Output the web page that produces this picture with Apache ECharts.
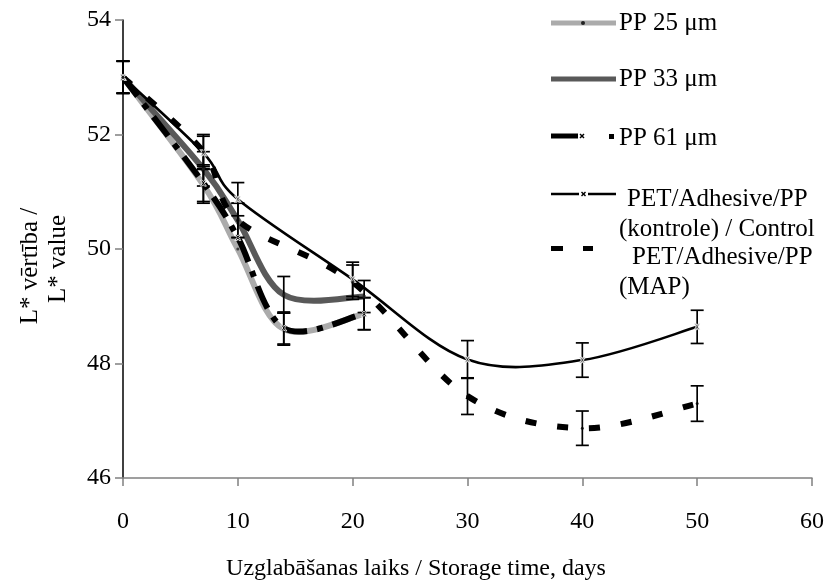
<!DOCTYPE html>
<html>
<head>
<meta charset="utf-8">
<script src="https://cdn.jsdelivr.net/npm/echarts@6/dist/echarts.min.js"></script>
<style>
html,body{margin:0;padding:0;background:#fff;}
#chart{width:828px;height:587px;}
</style>
</head>
<body>
<div id="chart"></div>
<script>
// ---- data ----
const xTicks = [0, 10, 20, 30, 40, 50, 60];
const yTicks = [46, 48, 50, 52, 54];
const ppDays = [0, 7, 10, 14, 21];
const pp25 = [53.0, 51.12, 50.0, 48.6, 48.87];
const pp33 = [53.0, 51.4, 50.5, 49.2, 49.17];
const pp61 = [53.0, 51.15, 50.2, 48.62, 48.87];
const petDays = [0, 7, 10, 20, 30, 40, 50];
const control = [53.0, 51.68, 50.87, 49.47, 48.07, 48.06, 48.64];
const mapPack = [53.0, 51.7, 50.5, 49.42, 47.43, 46.87, 47.3];
// error bars (0 = no bar drawn in the original)
const errPP25 = [0.28, 0.32, 0, 0.28, 0.28];
const errPP33 = [0.28, 0.3, 0.3, 0.32, 0.28];
const errPP61 = [0.28, 0.32, 0, 0.28, 0.28];
const errControl = [0.28, 0.29, 0.29, 0.3, 0.33, 0.3, 0.29];
const errMap = [0.28, 0.3, 0.3, 0.3, 0.32, 0.3, 0.31];
const names = ['PP 25 μm', 'PP 33 μm', 'PP 61 μm', 'PET/Adhesive/PP (kontrole) / Control', 'PET/Adhesive/PP (MAP)'];

const FONT = '"Liberation Serif", "Times New Roman", serif';
const pairs = (xs, ys) => xs.map((x, i) => [x, ys[i]]);
const errPairs = (xs, ys, es) => xs.map((x, i) => [x, ys[i], es[i]]);
const xSym = 'path://M0 0 L3 0 L5 2.5 L7 0 L10 0 L6.5 5 L10 10 L7 10 L5 7.5 L3 10 L0 10 L3.5 5 Z';

// smoothed curve (Excel-like Catmull-Rom, tension 1/6) through the data, via the axis scales
function curveRender(style) {
  return function (params, api) {
    if (params.dataIndexInside !== 0) return null;
    const n = params.dataInsideLength;
    const pts = [];
    for (let i = 0; i < n; i++) pts.push(api.coord([api.value(0, i), api.value(1, i)]));
    let d = 'M' + pts[0][0] + ' ' + pts[0][1];
    for (let i = 0; i < n - 1; i++) {
      const p0 = pts[i - 1] || pts[i], p1 = pts[i], p2 = pts[i + 1], p3 = pts[i + 2] || pts[i + 1];
      const c1x = p1[0] + (p2[0] - p0[0]) / 6, c1y = p1[1] + (p2[1] - p0[1]) / 6;
      const c2x = p2[0] - (p3[0] - p1[0]) / 6, c2y = p2[1] - (p3[1] - p1[1]) / 6;
      d += ' C' + c1x + ' ' + c1y + ' ' + c2x + ' ' + c2y + ' ' + p2[0] + ' ' + p2[1];
    }
    return {type: 'path', shape: {pathData: d}, style: Object.assign({fill: null}, style)};
  };
}
function curveSeries(name, xs, ys, style, z) {
  return {name: name, type: 'custom', renderItem: curveRender(style), data: pairs(xs, ys),
          encode: {x: 0, y: 1}, z: z, silent: true, clip: false};
}
function markSeries(name, xs, ys, symbol, size, itemStyle) {
  return {name: name, type: 'scatter', data: pairs(xs, ys), symbol: symbol, symbolSize: size,
          itemStyle: itemStyle, z: 6, silent: true};
}

function errRender(params, api) {
  const x = api.value(0), y = api.value(1), e = api.value(2);
  if (!e) return null;
  const top = api.coord([x, y + e]);
  const bot = api.coord([x, y - e]);
  const hw = 6.5;
  const st = {stroke: '#000', lineWidth: 1.7};
  return {
    type: 'group',
    children: [
      {type: 'line', shape: {x1: top[0], y1: top[1], x2: bot[0], y2: bot[1]}, style: st},
      {type: 'line', shape: {x1: top[0] - hw, y1: top[1], x2: top[0] + hw, y2: top[1]}, style: st},
      {type: 'line', shape: {x1: bot[0] - hw, y1: bot[1], x2: bot[0] + hw, y2: bot[1]}, style: st}
    ]
  };
}
function errSeries(data) {
  return {type: 'custom', renderItem: errRender, data: data, z: 5, silent: true,
          encode: {x: 0, y: 1}};
}
function xMark(cx, cy, r) {
  return [
    {type: 'line', shape: {x1: cx - r, y1: cy - r, x2: cx + r, y2: cy + r}, style: {stroke: '#000', lineWidth: 1.5}},
    {type: 'line', shape: {x1: cx - r, y1: cy + r, x2: cx + r, y2: cy - r}, style: {stroke: '#000', lineWidth: 1.5}}
  ];
}

const C25 = '#ababab', C33 = '#595959';
const chart = echarts.init(document.getElementById('chart'), null, {renderer: 'canvas'});
const option = {
  animation: false,
  backgroundColor: '#fff',
  grid: {left: 123, right: 16, top: 20, bottom: 109},
  xAxis: {
    type: 'value', min: 0, max: 60, interval: 10,
    axisLine: {show: true, lineStyle: {color: '#808080', width: 1.5}},
    axisTick: {show: true, inside: false, length: 8, lineStyle: {color: '#808080', width: 1.5}},
    axisLabel: {fontFamily: FONT, fontSize: 24, color: '#000', margin: 32,
                formatter: v => xTicks.includes(v) ? String(v) : ''},
    splitLine: {show: false}
  },
  yAxis: {
    type: 'value', min: 46, max: 54, interval: 2,
    axisLine: {show: true, lineStyle: {color: '#000', width: 1.5}},
    axisTick: {show: true, inside: false, length: 8, lineStyle: {color: '#808080', width: 1.5}},
    axisLabel: {fontFamily: FONT, fontSize: 24, color: '#000', margin: 12, align: 'right',
                formatter: v => yTicks.includes(v) ? String(v) : ''},
    splitLine: {show: false}
  },
  series: [
    curveSeries(names[0], ppDays, pp25, {stroke: C25, lineWidth: 6}, 2),
    curveSeries(names[1], ppDays, pp33, {stroke: C33, lineWidth: 6}, 2),
    curveSeries(names[2], ppDays, pp61, {stroke: '#000', lineWidth: 6, lineDash: [24, 10, 6, 10]}, 3),
    curveSeries(names[3], petDays, control, {stroke: '#000', lineWidth: 2.6}, 3),
    curveSeries(names[4], petDays, mapPack, {stroke: '#000', lineWidth: 6, lineDash: [11, 21]}, 3),
    errSeries(errPairs(ppDays, pp25, errPP25)),
    errSeries(errPairs(ppDays, pp33, errPP33)),
    errSeries(errPairs(ppDays, pp61, errPP61)),
    errSeries(errPairs(petDays, control, errControl)),
    errSeries(errPairs(petDays, mapPack, errMap)),
    markSeries(names[0], ppDays, pp25, 'circle', 3, {color: '#222'}),
    markSeries(names[1], ppDays, pp33, 'rect', 3, {color: '#222'}),
    markSeries(names[2], ppDays, pp61, xSym, 6, {color: '#000', borderColor: '#fff', borderWidth: 1}),
    markSeries(names[3], petDays, control, xSym, 6, {color: '#000', borderColor: '#fff', borderWidth: 1.2}),
    markSeries(names[4], petDays, mapPack, 'circle', 3, {color: '#000'})
  ],
  graphic: [
    // y axis title
    {type: 'text', x: 30, y: 266, rotation: Math.PI / 2,
     style: {text: 'L* vērtība /', font: '25px ' + FONT, fill: '#000', align: 'center', verticalAlign: 'middle'}},
    {type: 'text', x: 58, y: 259, rotation: Math.PI / 2,
     style: {text: 'L* value', font: '25px ' + FONT, fill: '#000', align: 'center', verticalAlign: 'middle'}},
    // x axis title
    {type: 'text', x: 416, y: 569,
     style: {text: 'Uzglabāšanas laiks / Storage time, days', font: '24px ' + FONT, fill: '#000', align: 'center', verticalAlign: 'middle'}},
    // legend samples
    {type: 'line', shape: {x1: 551, y1: 23, x2: 616, y2: 23}, style: {stroke: C25, lineWidth: 5}},
    {type: 'circle', shape: {cx: 583, cy: 23, r: 2}, style: {fill: '#222'}},
    {type: 'line', shape: {x1: 551, y1: 79, x2: 616, y2: 79}, style: {stroke: C33, lineWidth: 5}},
    {type: 'line', shape: {x1: 551, y1: 136, x2: 578, y2: 136}, style: {stroke: '#000', lineWidth: 5}},
    ...xMark(582, 136, 2),
    {type: 'rect', shape: {x: 609, y: 134, width: 5, height: 5}, style: {fill: '#000'}},
    {type: 'line', shape: {x1: 551, y1: 194, x2: 579, y2: 194}, style: {stroke: '#000', lineWidth: 2.5}},
    {type: 'line', shape: {x1: 588, y1: 194, x2: 616, y2: 194}, style: {stroke: '#000', lineWidth: 2.5}},
    ...xMark(583.5, 194, 2),
    {type: 'rect', shape: {x: 551, y: 246, width: 12, height: 5}, style: {fill: '#000'}},
    {type: 'rect', shape: {x: 583, y: 246, width: 10, height: 5}, style: {fill: '#000'}},
    // legend texts
    {type: 'text', x: 619, y: 23, style: {text: names[0], font: '25px ' + FONT, fill: '#000', verticalAlign: 'middle'}},
    {type: 'text', x: 619, y: 79, style: {text: names[1], font: '25px ' + FONT, fill: '#000', verticalAlign: 'middle'}},
    {type: 'text', x: 619, y: 138, style: {text: names[2], font: '25px ' + FONT, fill: '#000', verticalAlign: 'middle'}},
    {type: 'text', x: 627, y: 199, style: {text: 'PET/Adhesive/PP', font: '25px ' + FONT, fill: '#000', verticalAlign: 'middle'}},
    {type: 'text', x: 619, y: 229, style: {text: '(kontrole) / Control', font: '25px ' + FONT, fill: '#000', verticalAlign: 'middle'}},
    {type: 'text', x: 632, y: 257, style: {text: 'PET/Adhesive/PP', font: '25px ' + FONT, fill: '#000', verticalAlign: 'middle'}},
    {type: 'text', x: 619, y: 287, style: {text: '(MAP)', font: '25px ' + FONT, fill: '#000', verticalAlign: 'middle'}}
  ]
};
chart.setOption(option);
</script>
</body>
</html>
